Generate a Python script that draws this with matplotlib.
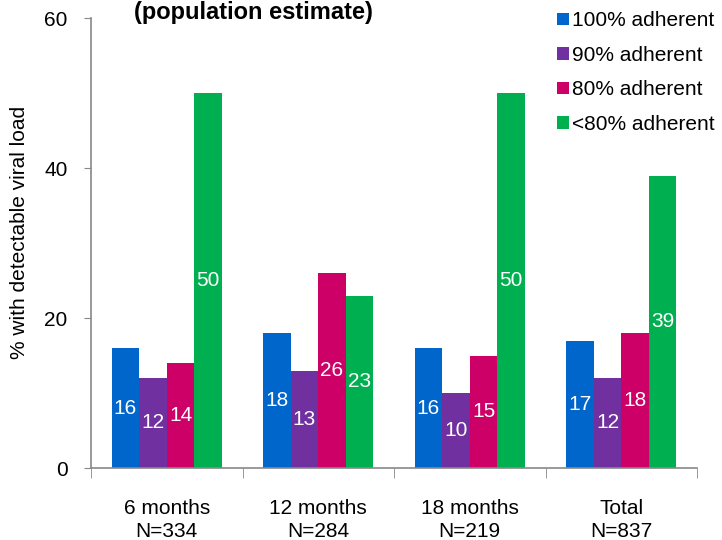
import numpy as np
import matplotlib
matplotlib.use("Agg")
import matplotlib.pyplot as plt
from matplotlib.patches import Patch

plt.rcParams['font.family'] = ['Liberation Sans', 'DejaVu Sans']

groups = ["6 months\nN=334", "12 months\nN=284", "18 months\nN=219", "Total\nN=837"]
series = ["100% adherent", "90% adherent", "80% adherent", "<80% adherent"]
adh100 = [16, 18, 16, 17]
adh90 = [12, 13, 10, 12]
adh80 = [14, 26, 15, 18]
adh_lt80 = [50, 23, 50, 39]
colors = ["#0066CC", "#7030A0", "#CC0066", "#00B050"]

fig = plt.figure(figsize=(7.22, 5.4), dpi=100)
W, H = 722, 540
ax = fig.add_axes([91 / W, 1 - 468 / H, (697 - 91) / W, (468 - 18) / H])

x = np.arange(len(groups))
bw = 0.182
fs = 15
for i, (vals, c) in enumerate(zip([adh100, adh90, adh80, adh_lt80], colors)):
    pos = x + (i - 1.5) * bw
    bars = ax.bar(pos, vals, width=bw, color=c, edgecolor='none', zorder=2)
    for b, v in zip(bars, vals):
        ax.text(b.get_x() + b.get_width() / 2, v / 2, str(v), ha='center',
                va='center', color='white', fontsize=fs)

ax.set_xlim(-0.5, 3.5)
ax.set_ylim(0, 60)
ax.set_yticks([0, 20, 40, 60])
ax.set_xticks(x)
ax.set_xticklabels(groups, fontsize=fs, linespacing=1.3)
ax.set_xticks(np.arange(-0.5, 4, 1), minor=True)
ax.tick_params(axis='x', which='major', length=0, pad=22)
ax.tick_params(axis='x', which='minor', length=7, direction='out', color='#888888')
ax.tick_params(axis='y', length=5, direction='out', color='#888888', labelsize=fs, pad=12)

for s in ['top', 'right']:
    ax.spines[s].set_visible(False)
for s in ['left', 'bottom']:
    ax.spines[s].set_color('#888888')
    ax.spines[s].set_linewidth(1.2)

fig.text(20 / W, 1 - 232 / H, "% with detectable viral load", rotation=90,
         ha='center', va='center', fontsize=fs)
fig.text(253 / W, 1 - 19 / H, "(population estimate)", ha='center', va='baseline',
         fontsize=17, fontweight='bold')

handles = [Patch(facecolor=c, edgecolor='none') for c in colors]
fig.legend(handles, series, loc='upper left', bbox_to_anchor=(553 / W, 1 - 7 / H),
           frameon=False, fontsize=fs, handlelength=0.55, handleheight=0.55,
           handletextpad=0.15, labelspacing=0.75, borderaxespad=0, borderpad=0.2)

fig.savefig("out.png", dpi=100)
